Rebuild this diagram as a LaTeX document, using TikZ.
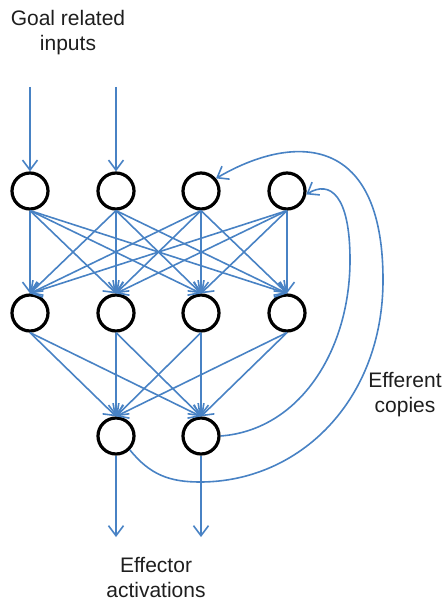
\documentclass[tikz,border=0pt]{standalone}
\usepackage{fontspec}
\setmainfont{Liberation Sans}
\usetikzlibrary{arrows.meta}
\definecolor{linkblue}{RGB}{72,130,196}
\definecolor{labelgray}{RGB}{30,30,30}
\tikzset{
  unit/.style={circle, draw=black, line width=3.2pt, minimum size=36pt, inner sep=0pt},
  link/.style={draw=linkblue, line width=1.6pt, -{Straight Barb[length=10pt,width=15pt]}},
  lbl/.style={align=center, text=labelgray, font=\fontsize{21}{25}\selectfont, inner sep=0pt, anchor=base}
}
\begin{document}
\begin{tikzpicture}[x=1pt,y=-1pt]
\useasboundingbox (0,0) rectangle (446,601);
% nodes
\node[unit] (t1) at (30,191) {};
\node[unit] (t2) at (116,191) {};
\node[unit] (t3) at (201,191) {};
\node[unit] (t4) at (287,191) {};
\node[unit] (m1) at (30,313) {};
\node[unit] (m2) at (116,313) {};
\node[unit] (m3) at (201,313) {};
\node[unit] (m4) at (287,313) {};
\node[unit] (b1) at (116,436) {};
\node[unit] (b2) at (201,436) {};
\coordinate (i1) at (30,87);
\coordinate (i2) at (116,87);
\coordinate (o1) at (116,537);
\coordinate (o2) at (201,537);
% labels
\node[lbl] (goal) at (68,51) {Goal related\\inputs};
\node[lbl] (eff) at (156,597) {Effector\\activations};
\node[lbl] (copies) at (405,412) {Efferent\\copies};
% inputs and outputs
\draw[link] (i1) -- (t1.north);
\draw[link] (i2) -- (t2.north);
\draw[link] (b1.south) -- (o1);
\draw[link] (b2.south) -- (o2);
% top to middle
\foreach \a in {1,...,4}{
  \foreach \b in {1,...,4}{
    \draw[link] (t\a.south) -- (m\b.north);
  }
}
% middle to bottom
\foreach \a in {1,...,4}{
  \foreach \b in {1,2}{
    \draw[link] (m\a.south) -- (b\b.north);
  }
}
% efferent copies
\draw[link] (b1.-45) .. controls (150,475) and (170,482) .. (200,482)
  .. controls (300,482) and (383,400) .. (383,280)
  .. controls (383,130) and (290,135) .. (t3.40);
\draw[link] (b2.east) .. controls (300,430) and (350,350) .. (350,260)
  .. controls (350,195) and (330,180) .. (t4.-10);
\end{tikzpicture}
\end{document}
